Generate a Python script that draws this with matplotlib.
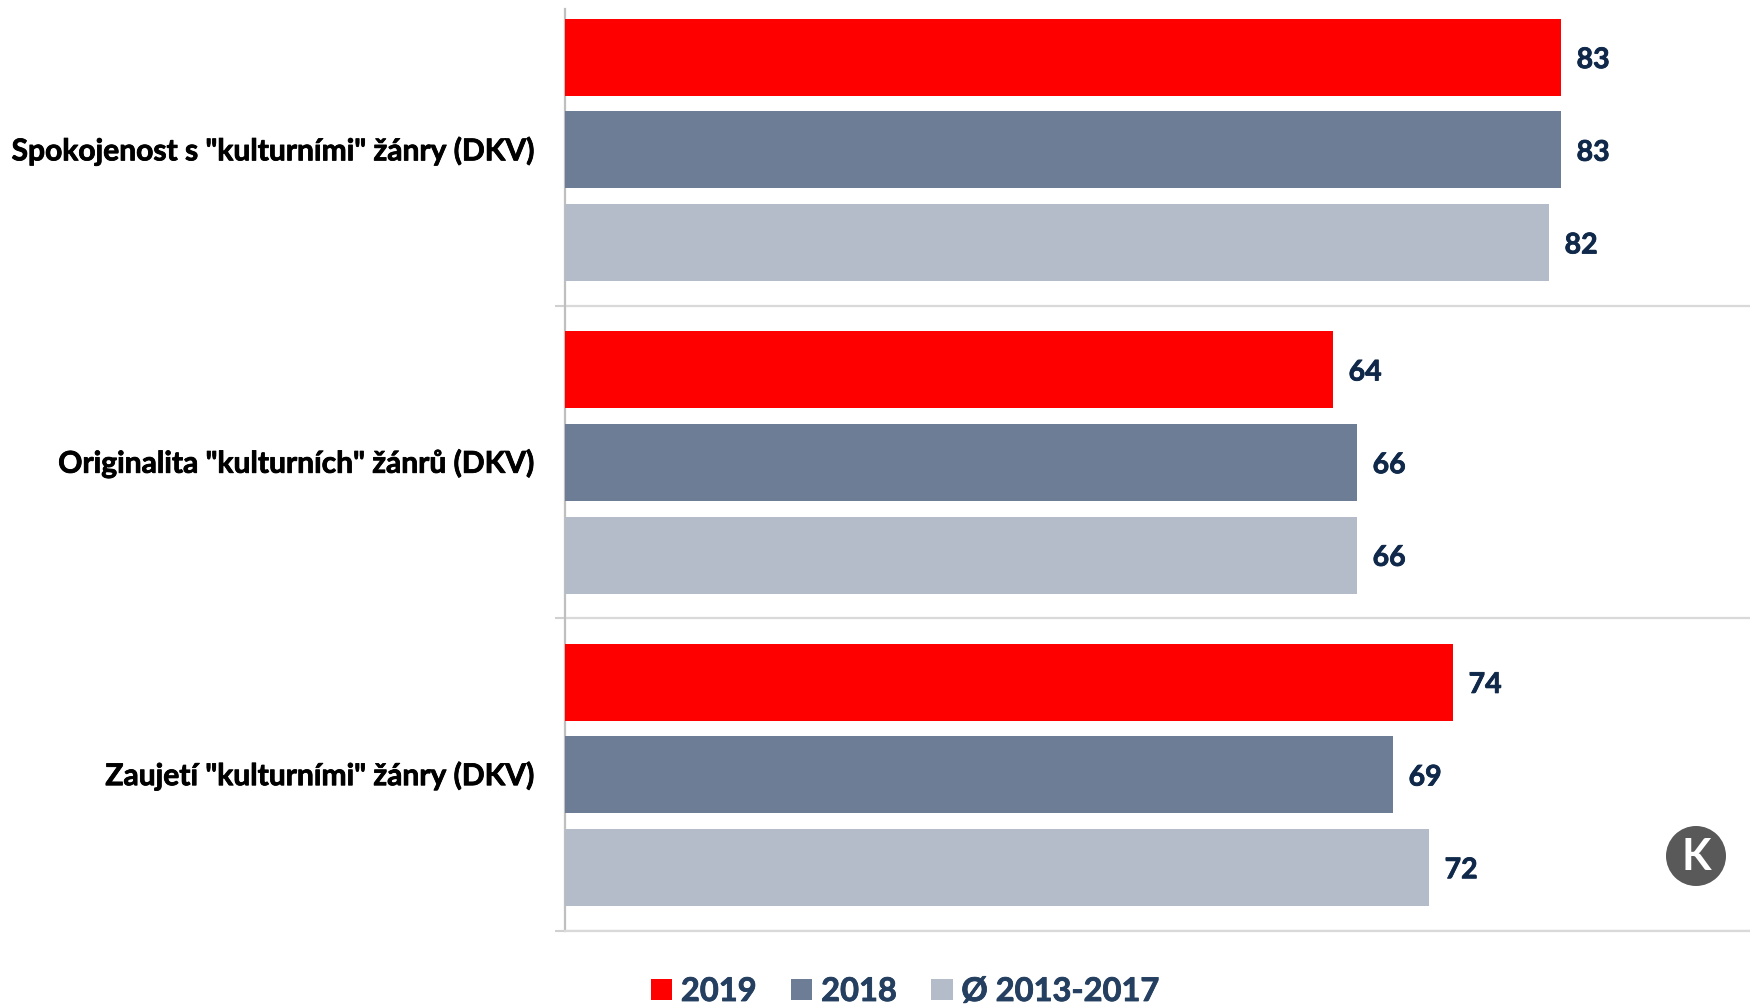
import matplotlib
matplotlib.use('Agg')
import matplotlib.pyplot as plt
import matplotlib.patheffects as pe
from matplotlib.patches import Ellipse, Patch
from matplotlib.transforms import ScaledTranslation

categories = ['Spokojenost s "kulturními" žánry (DKV)',
              'Originalita "kulturních" žánrů (DKV)',
              'Zaujetí "kulturními" žánry (DKV)']
series_names = ['2019', '2018', 'Ø 2013-2017']
values_2019 = [83, 64, 74]
values_2018 = [83, 66, 69]
values_avg = [82, 66, 72]

colors = ['#FF0000', '#6C7D95', '#B5BCC9']
W, H = 1750, 1005

plt.rcParams['font.family'] = ['Lato', 'DejaVu Sans']
fig = plt.figure(figsize=(W / 100, H / 100), dpi=100)
# axes placed by pixels: left 565, top 9, bottom 930.5
ax = fig.add_axes([565 / W, 1 - 930.5 / H, (W - 565) / W, (930.5 - 9) / H])

# thin outline to thicken the bold text a little
thick = lambda c, w: [pe.withStroke(linewidth=w, foreground=c)]

bar_h = 0.2464
step = 0.2966
for k, vals in enumerate([values_2019, values_2018, values_avg]):
    ypos = [i + (k - 1) * step + 0.0015 for i in range(len(categories))]
    ax.barh(ypos, vals, height=bar_h, color=colors[k], zorder=3)
    for y, v in zip(ypos, vals):
        ax.text(v + 1.3, y + 0.009, str(v), va='center', ha='left', fontsize=20.5,
                fontweight='bold', color='#10294A', path_effects=thick('#10294A', 0.6))

ax.set_xlim(0, (W - 565) / 12)
ax.set_ylim(2.5, 2.5 - 921.5 / 312.4)

# category names on the major ticks, group separators on the minor ones
ax.set_yticks(range(len(categories)))
ax.set_yticklabels(categories, fontsize=21.6, fontweight='bold', color='black',
                   path_effects=thick('black', 0.6))
ax.tick_params(axis='y', which='major', length=0, pad=22)
lift = ScaledTranslation(0, 1.2 / 100, fig.dpi_scale_trans)
for lab in ax.get_yticklabels():
    lab.set_transform(lab.get_transform() + lift)
ax.set_yticks([0.5, 1.5, 2.5], minor=True)
ax.tick_params(axis='y', which='minor', length=7, width=1.5, color='#D0D0D0')
ax.grid(axis='y', which='minor', color='#D9D9D9', linewidth=1.6)
ax.set_axisbelow(True)
ax.xaxis.set_visible(False)

for side in ['top', 'right']:
    ax.spines[side].set_visible(False)
ax.spines['left'].set_color('#BFBFBF')
ax.spines['left'].set_linewidth(1.6)
ax.spines['bottom'].set_color('#D9D9D9')
ax.spines['bottom'].set_linewidth(1.6)

handles = [Patch(facecolor=c, label=n) for c, n in zip(colors, series_names)]
leg = fig.legend(handles=handles, loc='center', bbox_to_anchor=(905 / W, 1 - 991.5 / H), ncol=3,
                 frameon=False, labelcolor='#243F60', prop={'size': 23.5, 'weight': 'bold'},
                 handlelength=0.65, handleheight=0.65, handletextpad=0.27, columnspacing=1.06,
                 borderpad=0, borderaxespad=0)
for t in leg.get_texts():
    t.set_path_effects(thick('#243F60', 0.6))

# round K badge, lower right
fig.add_artist(Ellipse((1696 / W, 1 - 856 / H), 60 / W, 60 / H, transform=fig.transFigure,
                       facecolor='#595959', edgecolor='none', zorder=5))
fig.text(1696 / W, 1 - 857 / H, 'K', ha='center', va='center', fontsize=31,
         fontweight='bold', color='white', zorder=6)

fig.savefig('out.png', dpi=100)
